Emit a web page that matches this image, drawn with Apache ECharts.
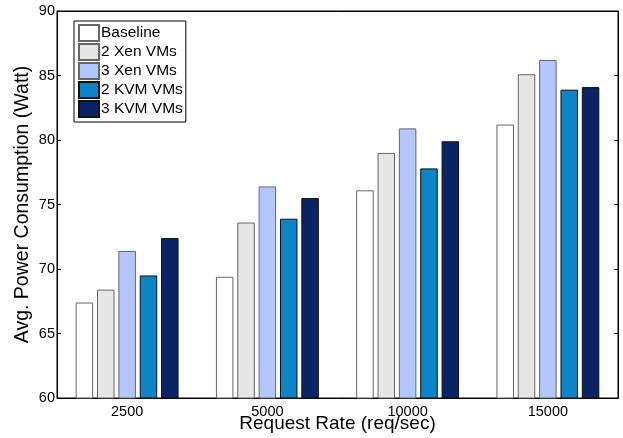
<!DOCTYPE html>
<html>
<head>
  <meta charset="utf-8">
  <title>power</title>
  <script src="https://cdn.jsdelivr.net/npm/echarts@6/dist/echarts.min.js"></script>
  <style>
    html, body { margin: 0; padding: 0; background: #fff; }
    #main { width: 623px; height: 438px; }
  </style>
</head>
<body>
  <div id="main"></div>
  <script>
    var rates = ['2500', '5000', '10000', '15000'];
    var baseline = [67.4, 69.4, 76.1, 81.2];
    var xen2 = [68.4, 73.6, 79.0, 85.1];
    var xen3 = [71.4, 76.4, 80.9, 86.2];
    var kvm2 = [69.5, 73.9, 77.8, 83.9];
    var kvm3 = [72.4, 75.5, 79.9, 84.1];

    var font = 'Liberation Sans, Arial, sans-serif';
    var colors = ['#ffffff', '#e6e6e6', '#b3c6fd', '#0b85c7', '#0b2466'];
    var names = ['Baseline', '2 Xen VMs', '3 Xen VMs', '2 KVM VMs', '3 KVM VMs'];
    var values = [baseline, xen2, xen3, kvm2, kvm3];

    var myChart = echarts.init(document.getElementById('main'));

    var series = names.map(function (n, i) {
      return {
        name: n,
        type: 'bar',
        data: values[i],
        barWidth: 17.5,
        barGap: '22%',
        itemStyle: { color: colors[i], borderColor: i < 3 ? '#666' : '#111', borderWidth: 1 }
      };
    });

    var option = {
      animation: false,
      grid: {
        left: 57, right: 5, top: 11, bottom: 40,
        outerBoundsMode: 'none',
        show: true, borderColor: '#000', borderWidth: 1
      },
      legend: {
        orient: 'vertical',
        left: 74,
        top: 21,
        data: names,
        icon: 'rect',
        itemWidth: 20,
        itemHeight: 16,
        itemGap: 1,
        padding: [3, 3, 4, 4],
        borderColor: '#000',
        borderWidth: 1,
        backgroundColor: '#fff',
        textStyle: { fontFamily: font, fontSize: 15.5, lineHeight: 16, color: '#000', padding: [0, 0, 0, -3] }
      },
      xAxis: [{
        type: 'category',
        data: rates,
        position: 'bottom',
        name: 'Request Rate (req/sec)',
        nameLocation: 'middle',
        nameGap: 16,
        nameMoveOverlap: false,
        nameTextStyle: { fontFamily: font, fontSize: 19, color: '#000' },
        axisLine: { lineStyle: { color: '#000' } },
        axisTick: { inside: true, alignWithLabel: true, length: 4, lineStyle: { color: '#000' } },
        axisLabel: { fontFamily: font, fontSize: 14.5, color: '#000', margin: 6 }
      }, {
        type: 'category',
        data: rates,
        position: 'top',
        axisLine: { lineStyle: { color: '#000' } },
        axisTick: { inside: true, alignWithLabel: true, length: 4, lineStyle: { color: '#000' } },
        axisLabel: { show: false }
      }],
      yAxis: [{
        type: 'value',
        min: 60,
        max: 90,
        interval: 5,
        name: 'Avg. Power Consumption (Watt)',
        nameLocation: 'middle',
        nameGap: 24,
        nameMoveOverlap: false,
        nameTextStyle: { fontFamily: font, fontSize: 19.5, color: '#000' },
        axisLine: { show: true, lineStyle: { color: '#000' } },
        axisTick: { show: true, inside: true, length: 4, lineStyle: { color: '#000' } },
        axisLabel: { fontFamily: font, fontSize: 14.5, color: '#000', margin: 2 },
        splitLine: { show: false }
      }, {
        type: 'value',
        min: 60,
        max: 90,
        interval: 5,
        position: 'right',
        axisLine: { show: true, lineStyle: { color: '#000' } },
        axisTick: { show: true, inside: true, length: 4, lineStyle: { color: '#000' } },
        axisLabel: { show: false },
        splitLine: { show: false }
      }],
      series: series
    };

    myChart.setOption(option);
  </script>
</body>
</html>
